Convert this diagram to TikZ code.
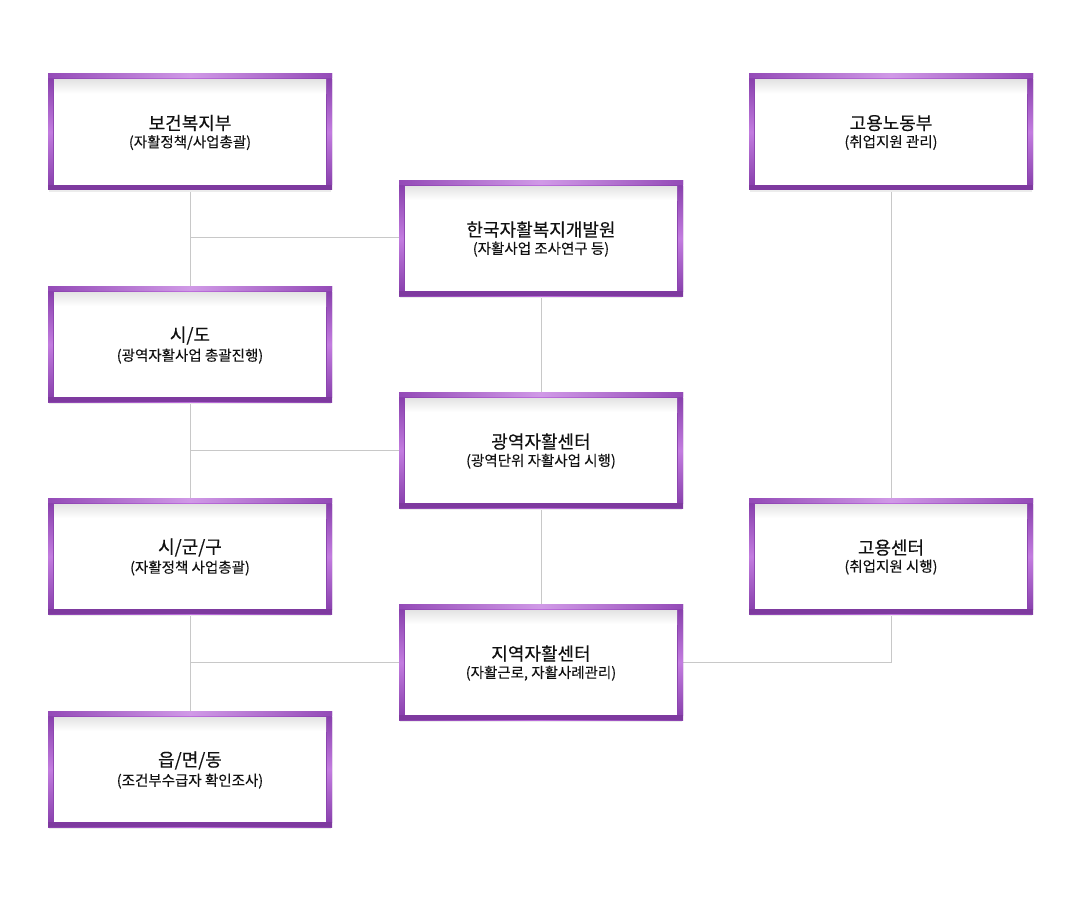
\documentclass[tikz,border=0pt]{standalone}
\usepackage{fontspec}
\setmainfont{Noto Sans CJK KR}
\newfontfamily\titlefont[FakeBold=0.3]{Noto Sans CJK KR}
\newfontfamily\subfont[FakeBold=0.1]{Noto Sans CJK KR}
\definecolor{pdark}{HTML}{8A42AE}
\definecolor{plight}{HTML}{BC6EDC}
\definecolor{pbot}{HTML}{7E3A9F}
\definecolor{linec}{HTML}{C8C8C8}
\definecolor{txt}{HTML}{111111}
\tikzset{
  boxnode/.style={minimum width=284pt, minimum height=116pt, inner sep=0pt, align=center, text=txt},
  conn/.style={draw=linec, line width=1pt}
}
\newcommand\orgbox[5]{%
  \begin{scope}[shift={(#2,#3)}]
    \fill[gray!15] (-141,58) rectangle (141,60);
    \shade[left color=pdark, right color=pdark, middle color=plight] (-142,-58) rectangle (142,58);
    \shade[left color=pdark!80!plight, right color=pdark!80!plight, middle color=plight!70!white] (-142,-58) rectangle (142,-54);
    \shade[top color=pdark, bottom color=pdark, middle color=plight!90!white] (-142,-52) rectangle (-137,53);
    \shade[top color=pdark, bottom color=pdark, middle color=plight!90!white] (137,-52) rectangle (142,53);
    \fill[pbot] (-142,53) rectangle (142,58);
    \fill[white] (-136,-52) rectangle (136,53);
    \shade[top color=gray!22, bottom color=white] (-136,-52) rectangle (136,-38);
  \end{scope}
  \node[boxnode] (#1) at (#2,#3+1) {{\titlefont\fontsize{18}{22}\selectfont #4}\\[3pt]{\subfont\fontsize{14.5}{18}\selectfont #5}};
}
\begin{document}
\begin{tikzpicture}[x=1pt,y=-1pt]
\useasboundingbox[fill=white] (0,0) rectangle (1080,900);
% connectors
\draw[conn] (190,190) -- (190,286);
\draw[conn] (190,402) -- (190,498);
\draw[conn] (190,614) -- (190,711);
\draw[conn] (541,296) -- (541,392);
\draw[conn] (541,508) -- (541,604);
\draw[conn] (891,190) -- (891,498);
\draw[conn] (190,237) -- (399,237);
\draw[conn] (190,450) -- (399,450);
\draw[conn] (190,662) -- (399,662);
\draw[conn] (891,614) |- (683,662);
% boxes
\orgbox{a}{190}{131.5}{보건복지부}{(자활정책/사업총괄)}
\orgbox{b}{190}{344}{시/도}{(광역자활사업 총괄진행)}
\orgbox{c}{190}{556}{시/군/구}{(자활정책 사업총괄)}
\orgbox{d}{190}{769}{읍/면/동}{(조건부수급자 확인조사)}
\orgbox{e}{541}{238}{한국자활복지개발원}{(자활사업 조사연구 등)}
\orgbox{f}{541}{450}{광역자활센터}{(광역단위 자활사업 시행)}
\orgbox{g}{541}{662}{지역자활센터}{(자활근로, 자활사례관리)}
\orgbox{h}{891}{131.5}{고용노동부}{(취업지원 관리)}
\orgbox{i}{891}{556}{고용센터}{(취업지원 시행)}
\end{tikzpicture}
\end{document}
